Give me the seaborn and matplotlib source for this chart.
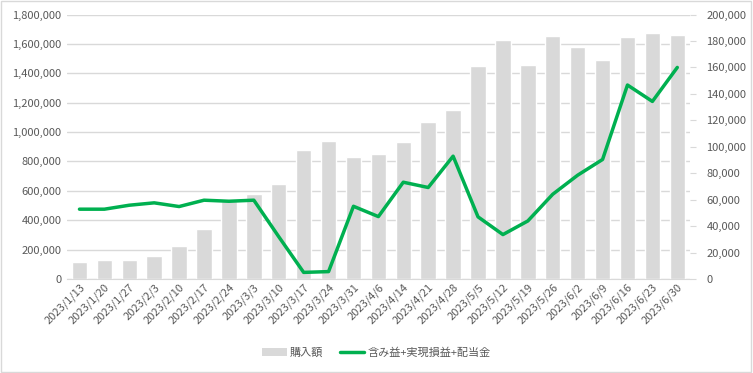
import pandas as pd
import numpy as np
import matplotlib
matplotlib.use("Agg")
import matplotlib.pyplot as plt
import matplotlib.ticker as mticker
from matplotlib.patches import Rectangle
import seaborn as sns

# data
dates = ["2023/1/13", "2023/1/20", "2023/1/27", "2023/2/3", "2023/2/10", "2023/2/17",
         "2023/2/24", "2023/3/3", "2023/3/10", "2023/3/17", "2023/3/24", "2023/3/31",
         "2023/4/6", "2023/4/14", "2023/4/21", "2023/4/28", "2023/5/5", "2023/5/12",
         "2023/5/19", "2023/5/26", "2023/6/2", "2023/6/9", "2023/6/16", "2023/6/23",
         "2023/6/30"]
purchase = [114000, 130000, 130000, 157000, 225000, 341000, 530000, 580000, 648000,
            877000, 939000, 832000, 850000, 932000, 1068000, 1152000, 1452000, 1630000,
            1457000, 1657000, 1582000, 1493000, 1648000, 1677000, 1664000]
profit = [52800, 52800, 55800, 57600, 54800, 59600, 58800, 59600, 32000, 5000, 5600,
          55000, 47200, 73200, 69200, 92900, 47000, 33600, 43900, 64100, 78500, 90400,
          146700, 134300, 160000]

bar_label = "購入額"
line_label = "含み益+実現損益+配当金"

df = pd.DataFrame({"date": dates, "purchase": purchase, "profit": profit})

sns.set_style("white")
plt.rcParams["font.family"] = ["Noto Sans CJK JP", "DejaVu Sans"]
txt = "#595959"
grid = "#d9d9d9"

fig = plt.figure(figsize=(7.53, 3.73), dpi=100)
ax = fig.add_axes([0.089, 0.252, 0.827, 0.709])

sns.barplot(data=df, x="date", y="purchase", color="#d9d9d9", saturation=1,
            width=0.62, ax=ax, zorder=2)
ax.set_ylim(0, 1800000)
ax.yaxis.set_major_locator(mticker.MultipleLocator(200000))
ax.yaxis.set_major_formatter(mticker.StrMethodFormatter("{x:,.0f}"))
ax.grid(axis="y", color=grid, linewidth=1, zorder=0)
ax.set_axisbelow(True)
ax.set_xlim(-0.5, len(dates) - 0.5)
ax.set_xlabel("")
ax.set_ylabel("")
for s in ["top", "left", "right"]:
    ax.spines[s].set_visible(False)
ax.spines["bottom"].set_color(grid)
ax.tick_params(axis="y", length=0, labelsize=8, labelcolor=txt, pad=4)
ax.tick_params(axis="x", which="major", length=0, labelsize=8, labelcolor=txt, pad=2)
ax.set_xticks(np.arange(-0.5, len(dates), 1), minor=True)
ax.tick_params(axis="x", which="minor", length=5, color=grid)
plt.setp(ax.get_xticklabels(), rotation=45, ha="right", rotation_mode="anchor")

ax2 = ax.twinx()
sns.lineplot(data=df, x="date", y="profit", sort=False, color="#00b050",
             linewidth=2.5, ax=ax2)
ax2.set_ylim(0, 200000)
ax2.yaxis.set_major_locator(mticker.MultipleLocator(20000))
ax2.yaxis.set_major_formatter(mticker.StrMethodFormatter("{x:,.0f}"))
ax2.set_ylabel("")
for s in ["top", "left", "right", "bottom"]:
    ax2.spines[s].set_visible(False)
ax2.tick_params(axis="y", length=4, color=grid, labelsize=8, labelcolor=txt, pad=8)

handles = [Rectangle((0, 0), 1, 1, facecolor="#d9d9d9", edgecolor="none"),
           plt.Line2D([0], [0], color="#00b050", linewidth=2.5)]
fig.legend(handles, [bar_label, line_label], loc="center", bbox_to_anchor=(0.5, 0.055),
           ncol=2, frameon=False, fontsize=8, labelcolor=txt, handlelength=2.2,
           handletextpad=0.3, columnspacing=1.5)

fig.patches.append(Rectangle((0.001, 0.002), 0.997, 0.995, transform=fig.transFigure,
                             fill=False, edgecolor=grid, linewidth=1))

fig.savefig("out.png", dpi=100, facecolor="white")
